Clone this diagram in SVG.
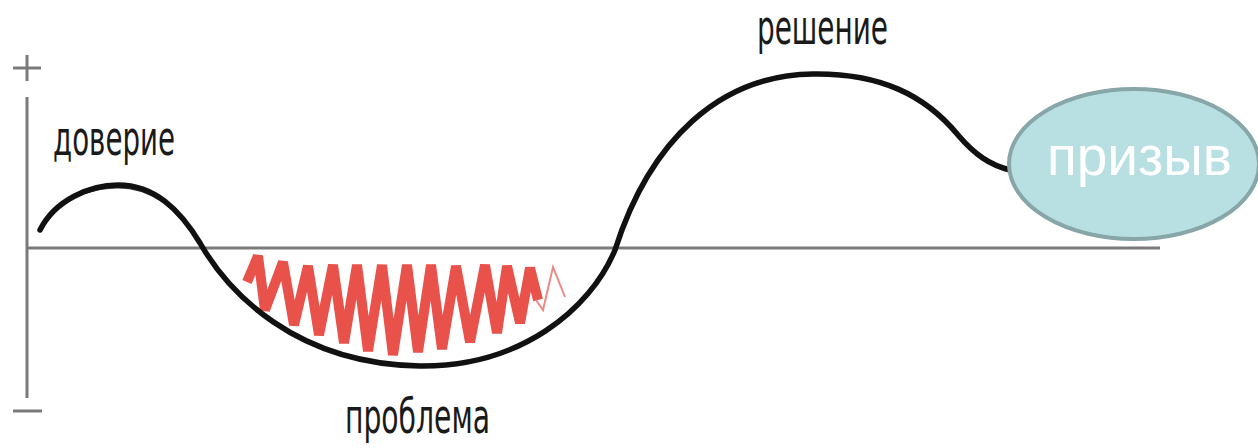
<svg xmlns="http://www.w3.org/2000/svg" width="1258" height="448" viewBox="0 0 1258 448">
  <style>
    .axis { stroke: #7a7a7a; stroke-width: 3; fill: none; }
    .curve { stroke: #111; fill: none; stroke-linecap: round; stroke-linejoin: round; }
    .zig { stroke: #e8524b; fill: none; stroke-width: 10; stroke-linejoin: miter; stroke-miterlimit: 2.2; stroke-linecap: butt; }
    .zigthin { stroke: #ec8a86; fill: none; stroke-width: 2; stroke-linejoin: miter; }
    .lbl { font-family: "Liberation Sans Narrow", "DejaVu Sans", "Liberation Sans", sans-serif; font-size: 48px; fill: #1a1a1a; }
    .node-text { font-family: "Liberation Sans", Arial, sans-serif; font-size: 56px; fill: #ffffff; }
  </style>
  <rect width="1258" height="448" fill="#ffffff"/>

  <g id="axes">
    <line class="axis" x1="27" y1="97" x2="27" y2="398"/>
    <line class="axis" x1="27" y1="248" x2="1160" y2="248"/>
    <line class="axis" x1="13" y1="68" x2="41" y2="68"/>
    <line class="axis" x1="27" y1="55" x2="27" y2="81"/>
    <line class="axis" x1="13" y1="411" x2="42" y2="411"/>
  </g>

  <g id="problem-zigzag">
    <polyline class="zig" points="247,282 258,256 265,310 283,262 294,325 308,266 319,335 333,265 344,343 357,265 368,351 382,265 393,355 407,265 418,352 431,265 442,349 456,266 470,342 485,265 497,333 507,266 520,323 530,268 538,300"/>
    <polyline class="zigthin" points="536,300 543,310 553,267 565,297"/>
  </g>

  <g id="connectors">
    <path class="curve" stroke-width="5.5" d="M40,230 C55,200 90,185 118,185 C155,185 180,210 200,243 C228,292 295,364 420,366 C520,367 590,310 615,250 C650,140 720,75 813,74 C880,73 925,95 958,135 C975,155 990,165 1010,170"/>
    <path class="curve" stroke-width="3" opacity="0.8" d="M50,214 C70,195 95,187 118,187 C150,187 175,205 198,240"/>
  </g>

  <g id="label-trust">
    <text class="lbl" x="53" y="155" textLength="122" lengthAdjust="spacingAndGlyphs">доверие</text>
  </g>
  <g id="label-problem">
    <text class="lbl" x="345" y="433" textLength="145" lengthAdjust="spacingAndGlyphs">проблема</text>
  </g>
  <g id="label-solution">
    <text class="lbl" x="757" y="44" font-size="46" textLength="131" lengthAdjust="spacingAndGlyphs">решение</text>
  </g>

  <g id="node-call">
    <ellipse cx="1134" cy="164" rx="125" ry="75" fill="#b8dfe2" stroke="#87a6a8" stroke-width="4"/>
    <text class="node-text" x="1047" y="175" textLength="185" lengthAdjust="spacingAndGlyphs">призыв</text>
  </g>
</svg>
